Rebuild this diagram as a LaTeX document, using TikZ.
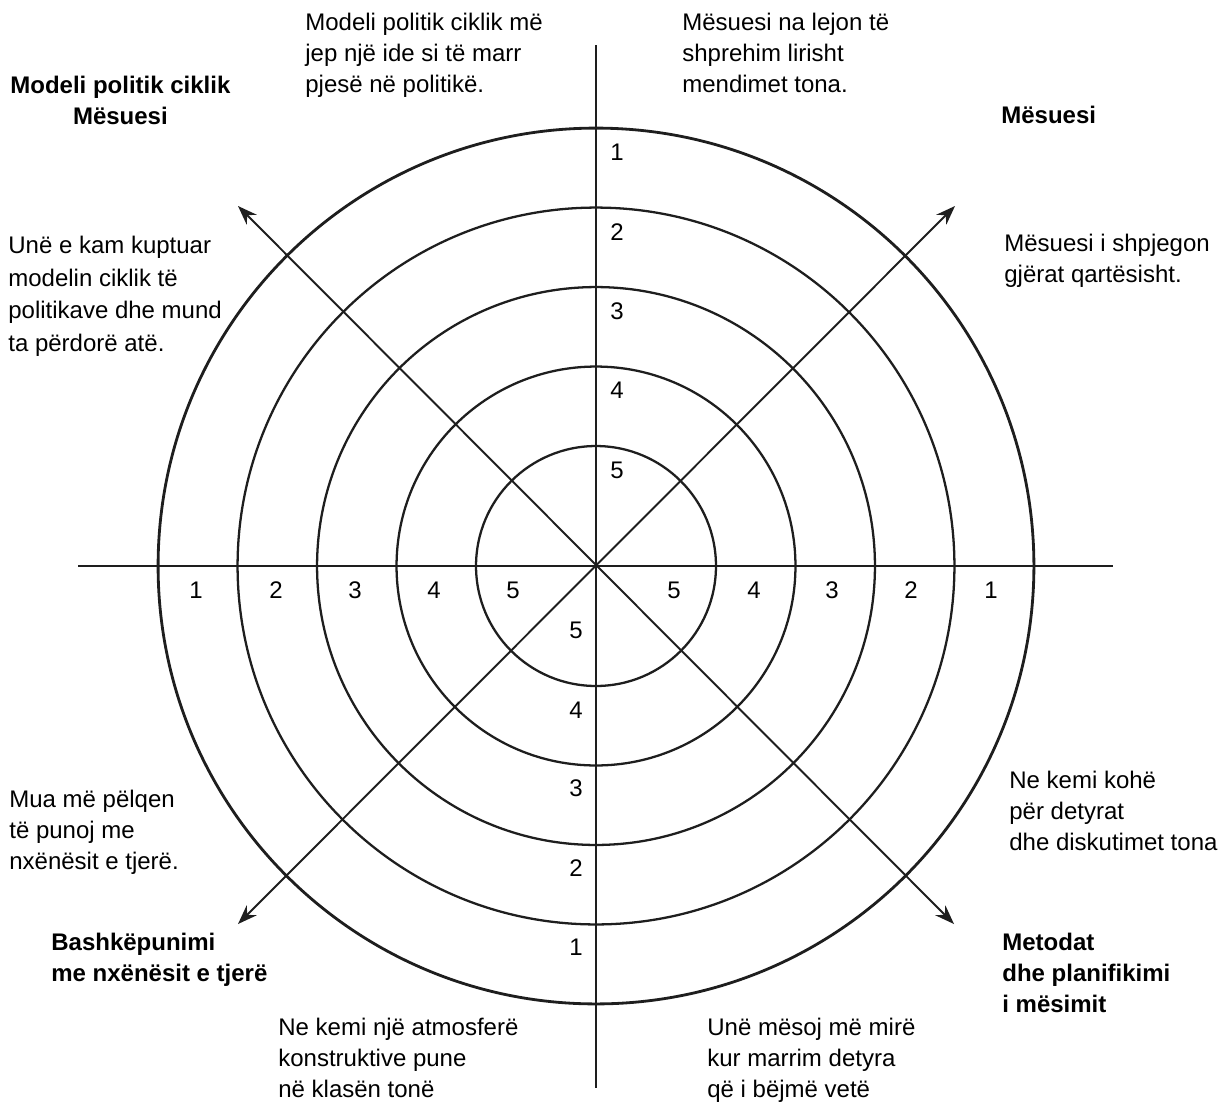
\documentclass[tikz,border=0pt]{standalone}
\usepackage{fontspec}
\setmainfont{Liberation Sans}
\usetikzlibrary{arrows.meta}
\definecolor{inkgray}{RGB}{30,30,30}

\begin{document}
\begin{tikzpicture}[
  x=0.02cm, y=-0.02cm,
  ring/.style ={draw=inkgray,line width=1.3pt},
  axis/.style ={draw=inkgray,line width=1.1pt},
  arr/.style  ={{Stealth[length=11pt,width=8pt]}-{Stealth[length=11pt,width=8pt]},
                draw=inkgray,line width=1.1pt},
  num/.style  ={inner sep=0pt,font={\fontsize{13.66}{17}\selectfont}},
  txt/.style  ={anchor=north west,inner sep=0pt,align=left,
                font={\fontsize{13.66}{17.64}\selectfont}},
  head/.style ={txt,font={\fontsize{13.66}{17.64}\selectfont\bfseries}},
]
\useasboundingbox (0,0) rectangle (1223,1106);

% centre, axes and arrow ends
\coordinate (c)  at (596,566);
\coordinate (w)  at (78,566);
\coordinate (e)  at (1113,566);
\coordinate (n)  at (596,45);
\coordinate (s)  at (596,1088);
\coordinate (ul) at (238,206);
\coordinate (ur) at (955,206);
\coordinate (ll) at (238,924);
\coordinate (lr) at (954,924);

% rings
\draw[ring] (c) circle[radius=2.40cm];
\draw[ring] (c) circle[radius=3.99cm];
\draw[ring] (c) circle[radius=5.58cm];
\draw[ring] (c) circle[radius=7.17cm];
\draw[ring,line width=1.6pt] (c) circle[radius=8.76cm];

\draw[axis] (w) -- (e);
\draw[axis] (n) -- (s);
\draw[arr] (ul) -- (lr);
\draw[arr] (ur) -- (ll);

% scale numbers
\node[num] (t1) at (617,152) {1};
\node[num] (t2) at (617,232) {2};
\node[num] (t3) at (617,311) {3};
\node[num] (t4) at (617,390) {4};
\node[num] (t5) at (617,470) {5};
\node[num] (b5) at (576,630) {5};
\node[num] (b4) at (576,710) {4};
\node[num] (b3) at (576,788) {3};
\node[num] (b2) at (576,868) {2};
\node[num] (b1) at (576,947) {1};
\node[num] (l1) at (196,590) {1};
\node[num] (l2) at (276,590) {2};
\node[num] (l3) at (355,590) {3};
\node[num] (l4) at (434,590) {4};
\node[num] (l5) at (513,590) {5};
\node[num] (r5) at (674,590) {5};
\node[num] (r4) at (754,590) {4};
\node[num] (r3) at (832,590) {3};
\node[num] (r2) at (911,590) {2};
\node[num] (r1) at (991,590) {1};

% headings
\node[head,align=center] (hmodel) at (10,76) {Modeli politik ciklik\\Mësuesi};
\node[head] (hteach) at (1001,106) {Mësuesi};
\node[head] (hcoop) at (51,933) {Bashkëpunimi\\me nxënësit e tjerë};
\node[head] (hmeth) at (1002,933) {Metodat\\dhe planifikimi\\i mësimit};

% statements
\node[txt] (smodel) at (305,13) {Modeli politik ciklik më\\jep një ide si të marr\\pjesë në politikë.};
\node[txt] (sfree) at (682,13) {Mësuesi na lejon të\\shprehim lirisht\\mendimet tona.};
\node[txt,font={\fontsize{13.66}{18.5}\selectfont}] (sunder) at (8,236)
  {Unë e kam kuptuar\\modelin ciklik të\\politikave dhe mund\\ta përdorë atë.};
\node[txt] (sclear) at (1004,234) {Mësuesi i shpjegon\\gjërat qartësisht.};
\node[txt] (swork) at (9,790) {Mua më pëlqen\\të punoj me\\nxënësit e tjerë.};
\node[txt] (stime) at (1009,771) {Ne kemi kohë\\për detyrat\\dhe diskutimet tona};
\node[txt] (satmo) at (278,1018) {Ne kemi një atmosferë\\konstruktive pune\\në klasën tonë};
\node[txt] (slearn) at (707,1018) {Unë mësoj më mirë\\kur marrim detyra\\që i bëjmë vetë};
\end{tikzpicture}
\end{document}
